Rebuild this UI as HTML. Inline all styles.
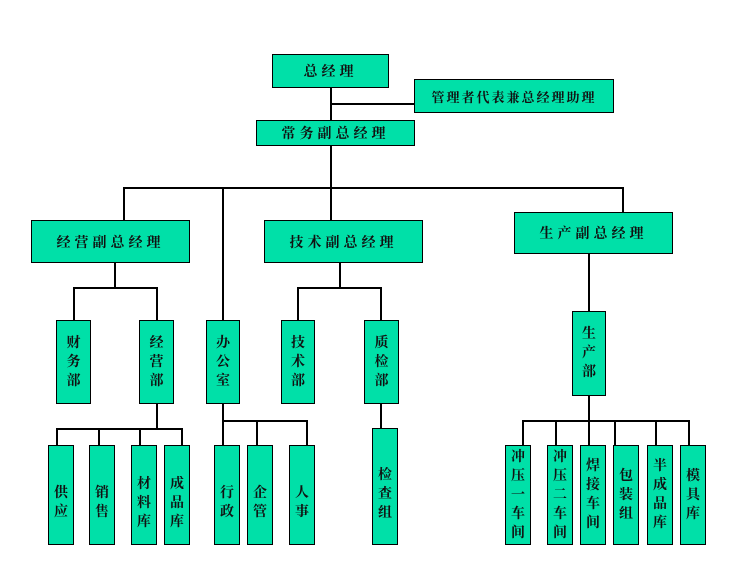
<!DOCTYPE html>
<html><head><meta charset="utf-8"><style>
body{margin:0;width:752px;height:576px;background:#fff;position:relative;overflow:hidden;font-family:"Liberation Serif","Noto Serif CJK SC",serif;}
.b{position:absolute;background:#00e0a8;border:1.5px solid #000;box-sizing:border-box;display:flex;align-items:center;justify-content:center;font-weight:bold;font-size:14px;color:#111;}
.h{letter-spacing:4px;}
.v{flex-direction:column;line-height:19px;font-size:14px;}
.lo{padding-top:16px;}
.l{position:absolute;background:#000;}
</style></head><body>
<div class="l" style="left:330px;top:87px;width:1.5px;height:33px"></div>
<div class="l" style="left:330px;top:103px;width:84px;height:1.5px"></div>
<div class="l" style="left:330px;top:145px;width:1.5px;height:75px"></div>
<div class="l" style="left:123px;top:187px;width:500px;height:1.5px"></div>
<div class="l" style="left:123px;top:187px;width:1.5px;height:33px"></div>
<div class="l" style="left:222px;top:187px;width:1.5px;height:133px"></div>
<div class="l" style="left:622px;top:187px;width:1.5px;height:25px"></div>
<div class="l" style="left:588px;top:253px;width:1.5px;height:58px"></div>
<div class="l" style="left:114px;top:262px;width:1.5px;height:25px"></div>
<div class="l" style="left:73px;top:287px;width:84px;height:1.5px"></div>
<div class="l" style="left:73px;top:287px;width:1.5px;height:33px"></div>
<div class="l" style="left:156px;top:287px;width:1.5px;height:33px"></div>
<div class="l" style="left:339px;top:262px;width:1.5px;height:25px"></div>
<div class="l" style="left:297px;top:287px;width:84px;height:1.5px"></div>
<div class="l" style="left:297px;top:287px;width:1.5px;height:33px"></div>
<div class="l" style="left:380px;top:287px;width:1.5px;height:33px"></div>
<div class="l" style="left:156px;top:403px;width:1.5px;height:25px"></div>
<div class="l" style="left:56px;top:428px;width:126px;height:1.5px"></div>
<div class="l" style="left:56px;top:428px;width:1.5px;height:17px"></div>
<div class="l" style="left:98px;top:428px;width:1.5px;height:17px"></div>
<div class="l" style="left:139px;top:428px;width:1.5px;height:17px"></div>
<div class="l" style="left:181px;top:428px;width:1.5px;height:17px"></div>
<div class="l" style="left:222px;top:403px;width:1.5px;height:42px"></div>
<div class="l" style="left:222px;top:420px;width:85px;height:1.5px"></div>
<div class="l" style="left:256px;top:420px;width:1.5px;height:25px"></div>
<div class="l" style="left:306px;top:420px;width:1.5px;height:25px"></div>
<div class="l" style="left:380px;top:403px;width:1.5px;height:25px"></div>
<div class="l" style="left:588px;top:395px;width:1.5px;height:50px"></div>
<div class="l" style="left:522px;top:420px;width:167px;height:1.5px"></div>
<div class="l" style="left:522px;top:420px;width:1.5px;height:25px"></div>
<div class="l" style="left:555px;top:420px;width:1.5px;height:25px"></div>
<div class="l" style="left:614px;top:420px;width:1.5px;height:25px"></div>
<div class="l" style="left:655px;top:420px;width:1.5px;height:25px"></div>
<div class="l" style="left:688px;top:420px;width:1.5px;height:25px"></div>
<div class="b h" style="left:272px;top:54px;width:117px;height:34px">总经理</div>
<div class="b" style="left:414px;top:79px;width:200px;height:34px;letter-spacing:2px;font-size:13px">管理者代表兼总经理助理</div>
<div class="b h" style="left:256px;top:120px;width:159px;height:26px">常务副总经理</div>
<div class="b h" style="left:31px;top:220px;width:159px;height:43px">经营副总经理</div>
<div class="b h" style="left:264px;top:220px;width:159px;height:43px">技术副总经理</div>
<div class="b h" style="left:514px;top:212px;width:159px;height:42px">生产副总经理</div>
<div class="b v" style="left:56px;top:320px;width:35px;height:84px">财<br>务<br>部</div>
<div class="b v" style="left:139px;top:320px;width:35px;height:84px">经<br>营<br>部</div>
<div class="b v" style="left:206px;top:320px;width:34px;height:84px">办<br>公<br>室</div>
<div class="b v" style="left:281px;top:320px;width:34px;height:84px">技<br>术<br>部</div>
<div class="b v" style="left:364px;top:320px;width:35px;height:84px">质<br>检<br>部</div>
<div class="b v" style="left:572px;top:311px;width:34px;height:85px">生<br>产<br>部</div>
<div class="b v lo" style="left:48px;top:445px;width:26px;height:100px">供<br>应</div>
<div class="b v lo" style="left:89px;top:445px;width:26px;height:100px">销<br>售</div>
<div class="b v lo" style="left:131px;top:445px;width:26px;height:100px">材<br>料<br>库</div>
<div class="b v lo" style="left:164px;top:445px;width:26px;height:100px">成<br>品<br>库</div>
<div class="b v lo" style="left:214px;top:445px;width:26px;height:100px">行<br>政</div>
<div class="b v lo" style="left:247px;top:445px;width:26px;height:100px">企<br>管</div>
<div class="b v lo" style="left:289px;top:445px;width:26px;height:100px">人<br>事</div>
<div class="b v lo" style="left:372px;top:428px;width:26px;height:117px">检<br>查<br>组</div>
<div class="b v" style="left:505px;top:445px;width:26px;height:100px">冲<br>压<br>一<br>车<br>间</div>
<div class="b v" style="left:547px;top:445px;width:26px;height:100px">冲<br>压<br>二<br>车<br>间</div>
<div class="b v" style="left:580px;top:445px;width:26px;height:100px">焊<br>接<br>车<br>间</div>
<div class="b v" style="left:613px;top:445px;width:26px;height:100px">包<br>装<br>组</div>
<div class="b v" style="left:647px;top:445px;width:26px;height:100px">半<br>成<br>品<br>库</div>
<div class="b v" style="left:680px;top:445px;width:26px;height:100px">模<br>具<br>库</div>
</body></html>
